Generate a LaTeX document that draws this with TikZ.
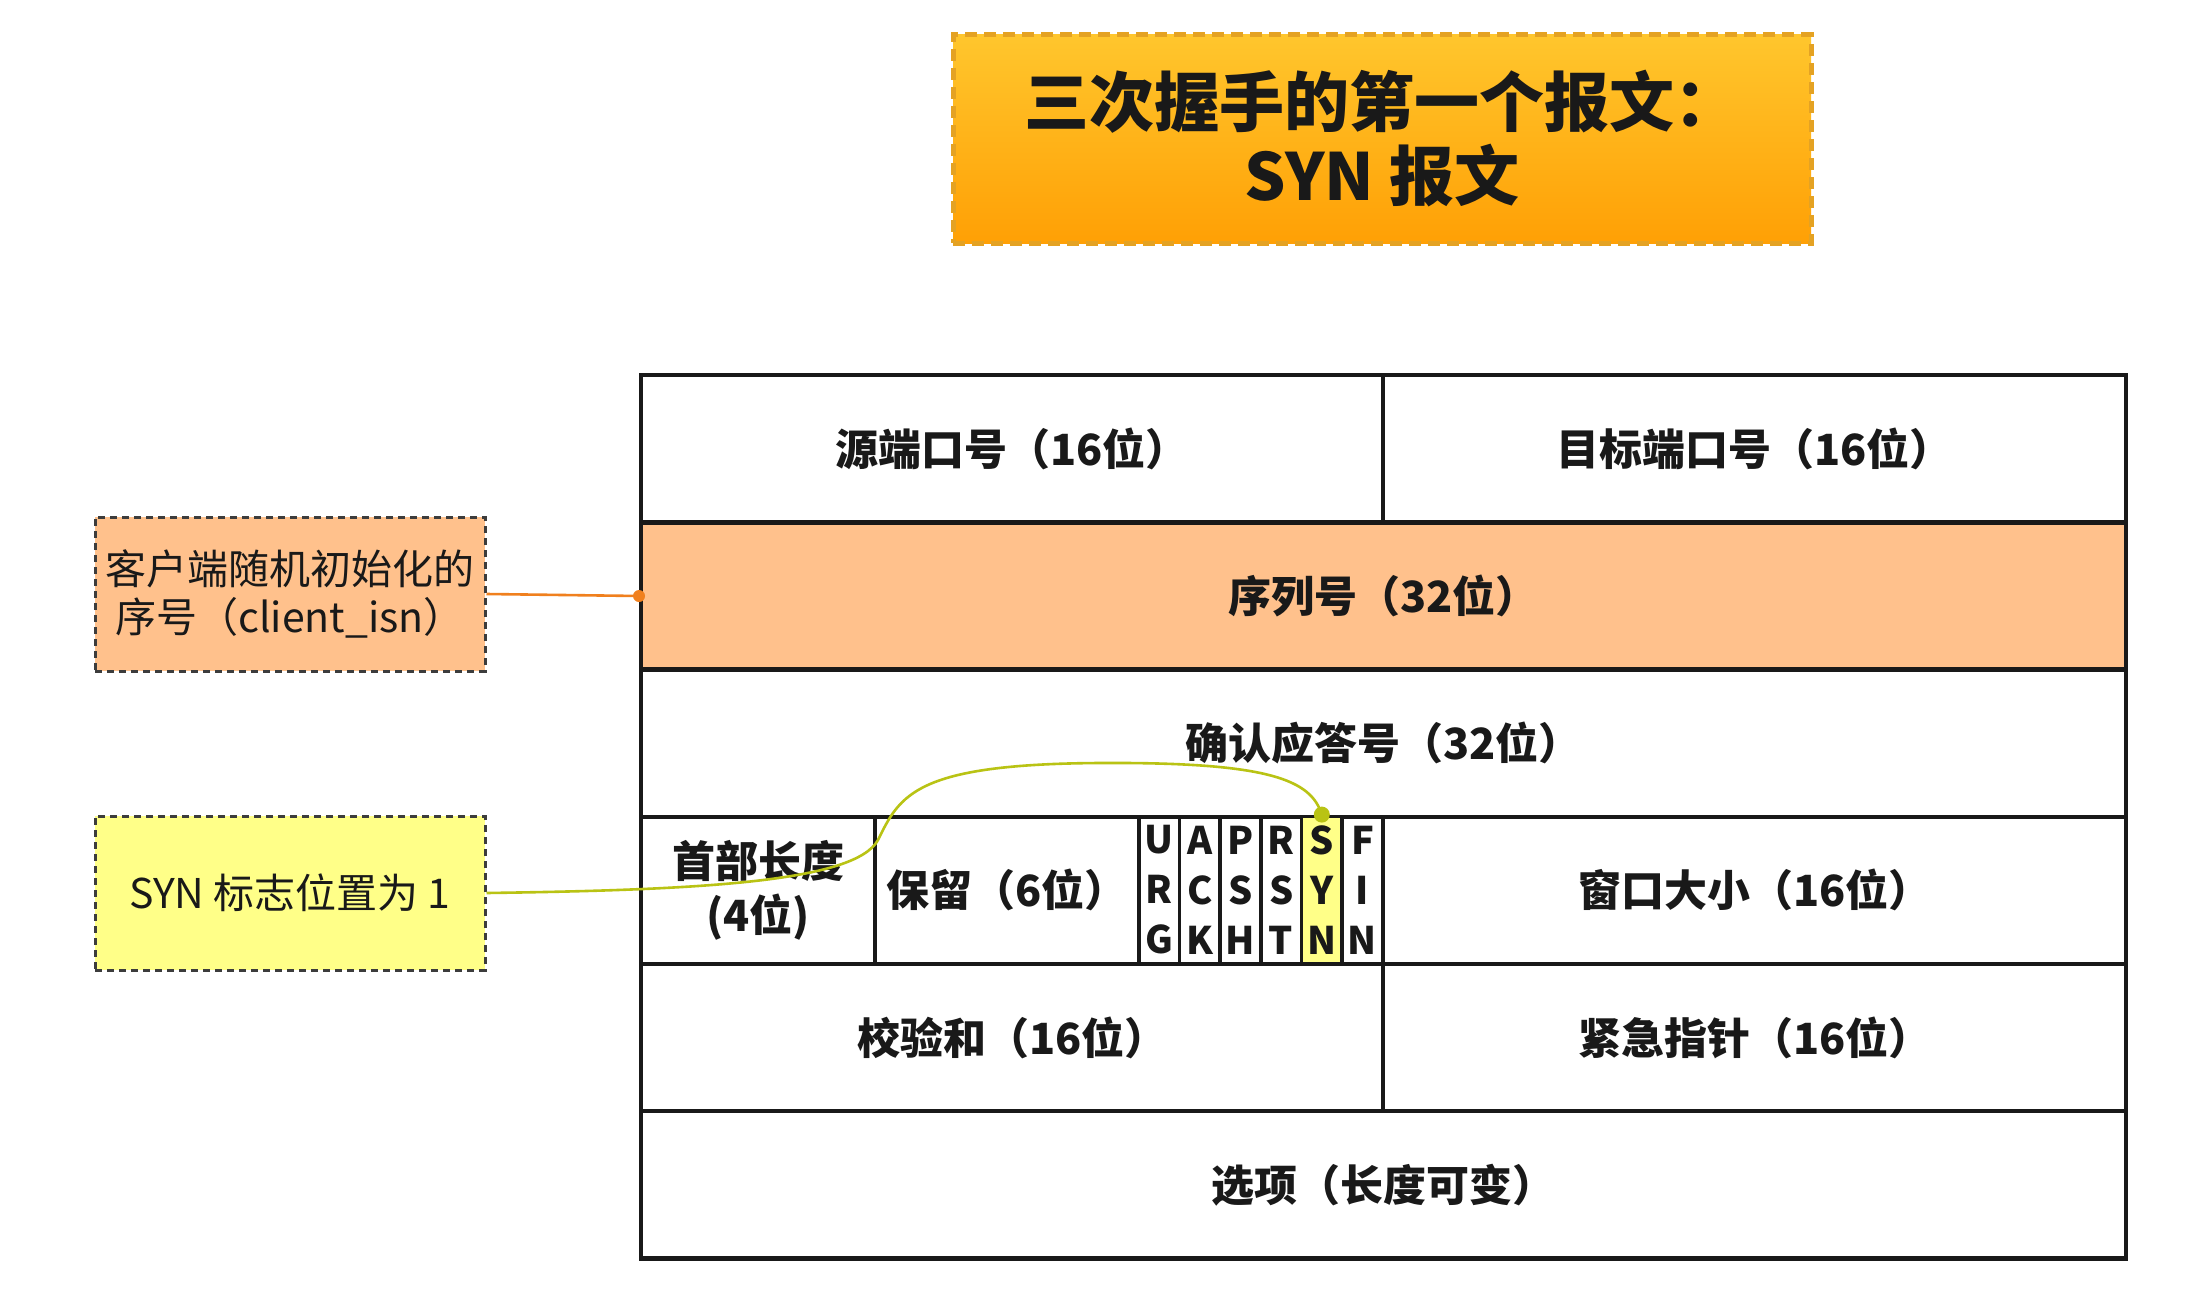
\documentclass[tikz,border=0pt]{standalone}
\usepackage{fontspec}
\setmainfont{Noto Sans CJK SC}
\usetikzlibrary{shadings}
\definecolor{peach}{RGB}{255,193,140}
\definecolor{lemon}{RGB}{255,255,136}
\definecolor{titleedge}{RGB}{228,162,35}
\definecolor{titletop}{RGB}{255,198,45}
\definecolor{titlebot}{RGB}{255,160,5}
\definecolor{orangeline}{RGB}{240,128,30}
\definecolor{oliveline}{RGB}{185,195,20}
\definecolor{ink}{RGB}{25,25,25}
\begin{document}
\begin{tikzpicture}[x=1pt,y=-1pt,
  cell/.style={draw=ink, line width=4.4pt, minimum width=#1, minimum height=147.2pt,
    anchor=north west, inner sep=0pt, align=center, text=ink,
    font=\bfseries\fontsize{43}{54}\selectfont},
  flagcell/.style={draw=ink, line width=3.6pt, minimum width=40.67pt, minimum height=147.2pt,
    anchor=north west, inner sep=0pt, align=center, text=ink,
    font=\bfseries\fontsize{38}{50}\selectfont},
  notebox/.style={draw=ink!85, dashed, dash pattern=on 7pt off 5pt, line width=3pt,
    minimum width=390pt, minimum height=154pt, inner sep=0pt, align=center, text=ink,
    font=\fontsize{41}{48}\selectfont},
  titlebox/.style={draw=titleedge, dash pattern=on 12pt off 7pt, line width=5pt,
    top color=titletop, bottom color=titlebot, minimum width=858pt, minimum height=208pt,
    inner sep=0pt, align=center, text=ink, font=\bfseries\fontsize{65}{74}\selectfont}
]
\useasboundingbox (0,0) rectangle (2198,1290);
\fill[white] (0,0) rectangle (2198,1290);

% title
\node[titlebox] (title) at (1382,139) {三次握手的第一个报文：\\SYN 报文};

% table rows
\node[cell=742pt] (src) at (639,373) {源端口号（16位）};
\node[cell=743pt] (dst) at (1381,373) {目标端口号（16位）};
\node[cell=1485pt, fill=peach] (seq) at (639,520.2) {序列号（32位）};
\node[cell=1485pt] (ack) at (639,667.4) {确认应答号（32位）};
\node[cell=234pt] (hdr) at (639,814.6) {首部长度\\(4位)};
\node[cell=264pt] (resv) at (873,814.6) {保留（6位）};
\node[flagcell] (fU) at (1137.00,814.6) {U\\R\\G};
\node[flagcell] (fA) at (1177.67,814.6) {A\\C\\K};
\node[flagcell] (fP) at (1218.33,814.6) {P\\S\\H};
\node[flagcell] (fR) at (1259.00,814.6) {R\\S\\T};
\node[flagcell, fill=lemon] (fS) at (1299.67,814.6) {S\\Y\\N};
\node[flagcell] (fF) at (1340.33,814.6) {F\\I\\N};
\node[cell=743pt] (win) at (1381,814.6) {窗口大小（16位）};
\node[cell=742pt] (chk) at (639,961.8) {校验和（16位）};
\node[cell=743pt] (urg) at (1381,961.8) {紧急指针（16位）};
\node[cell=1485pt] (opt) at (639,1109) {选项（长度可变）};

% notes
\node[notebox, fill=peach] (isn) at (290,594) {客户端随机初始化的\\序号（client\_isn）};
\node[notebox, fill=lemon] (synnote) at (290,893) {SYN 标志位置为 1};

% connectors
\draw[orangeline, line width=2.6pt] (isn.east) -- (seq.west);
\fill[orangeline] (seq.west) circle (6pt);
\draw[oliveline, line width=2.6pt] (synnote.east)
  .. controls (700,890) and (855,882) .. (878,840)
  .. controls (900,795) and (915,764) .. (1100,763)
  .. controls (1270,762) and (1311,780) .. (fS.north);
\fill[oliveline] (fS.north) circle (8pt);
\end{tikzpicture}
\end{document}
